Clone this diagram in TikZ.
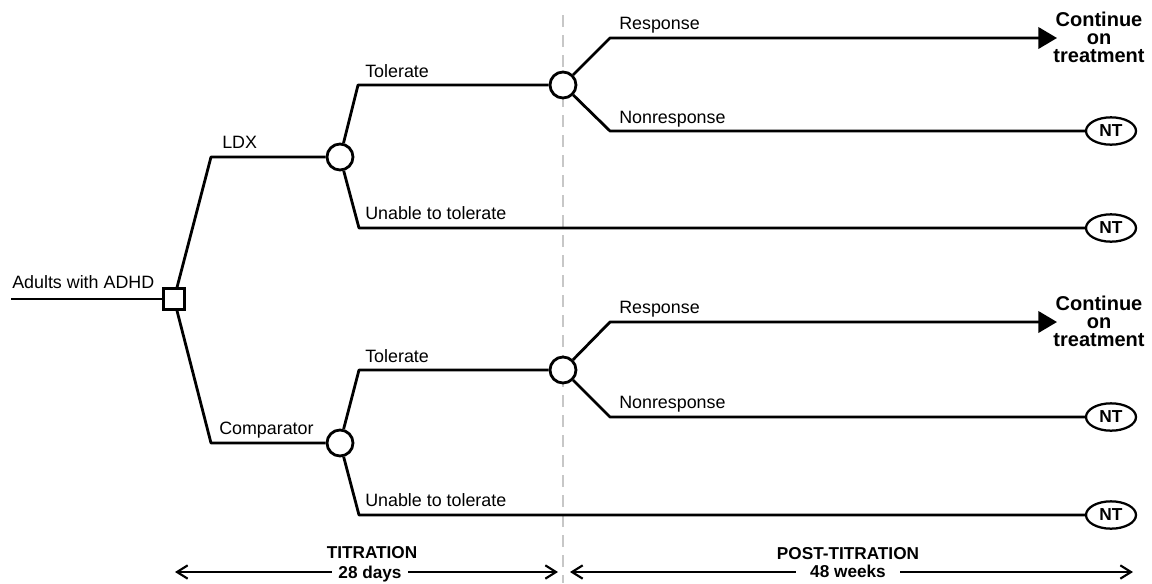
\documentclass[tikz,border=0pt]{standalone}
\usepackage{fontspec}
\setmainfont{Liberation Sans}
\usetikzlibrary{arrows.meta,shapes.geometric}
\begin{document}
\begin{tikzpicture}[x=0.75pt,y=-0.75pt,
  branch/.style={line width=2.1pt, line join=round},
  respline/.style={branch, -{Triangle[length=14pt,width=16pt]}},
  chance/.style={circle, draw, line width=2.1pt, fill=white, minimum size=19.5pt, inner sep=0pt},
  decision/.style={rectangle, draw, line width=2.1pt, fill=white, minimum size=15.5pt, inner sep=0pt},
  term/.style={ellipse, draw, line width=1.7pt, fill=white, minimum width=37.5pt, minimum height=20.5pt, inner sep=0pt, font=\bfseries\fontsize{13}{14}\selectfont},
  lbl/.style={anchor=base west, inner sep=0pt, font=\fontsize{13.4}{15}\selectfont},
  outcome/.style={align=center, inner sep=0pt, font=\bfseries\fontsize{15}{13.6}\selectfont},
  phase/.style={anchor=base, inner sep=0pt, font=\bfseries\fontsize{12.9}{15}\selectfont},
  span/.style={line width=1.6pt, {Straight Barb[length=8pt,width=10pt]}-{Straight Barb[length=8pt,width=10pt]}},
  divider/.style={draw=black!22, line width=2.2pt, dash pattern=on 9pt off 6pt}
]
\useasboundingbox (0,0) rectangle (1152,583);

% phase divider
\coordinate (dtop) at (563,15);
\coordinate (dbot) at (563,583);
\draw[divider] (dtop) -- (dbot);

% nodes
\coordinate (start) at (11,299);
\node[decision] (root) at (174,299) {};
\node[chance] (c1) at (340,157) {};
\node[chance] (c2) at (563,85) {};
\node[chance] (c3) at (340,443) {};
\node[chance] (c4) at (563,370) {};

\coordinate (k1) at (211,157);
\coordinate (k2) at (211,443);
\coordinate (t1) at (358,85);
\coordinate (u1) at (359,228);
\coordinate (t2) at (359,370);
\coordinate (u2) at (359,515);
\coordinate (r1) at (610,38);
\coordinate (n1) at (610,131);
\coordinate (r2) at (610,322);
\coordinate (n2) at (610,417);
\coordinate (e1) at (1057,38);
\coordinate (e2) at (1057,322);

\node[term] (nt1) at (1111,131) {NT};
\node[term] (nt2) at (1111,228) {NT};
\node[term] (nt3) at (1111,417) {NT};
\node[term] (nt4) at (1111,515) {NT};

\node[outcome] (co1) at (1099,37) {Continue\\on\\treatment};
\node[outcome] (co2) at (1099,321) {Continue\\on\\treatment};

% connectors
\draw[branch] (start) -- (root);
\draw[branch] (root) -- (k1) -- (c1);
\draw[branch] (root) -- (k2) -- (c3);
\draw[branch] (c1) -- (t1) -- (c2);
\draw[branch] (c1) -- (u1) -- (nt2);
\draw[branch] (c3) -- (t2) -- (c4);
\draw[branch] (c3) -- (u2) -- (nt4);
\draw[respline] (c2) -- (r1) -- (e1);
\draw[branch] (c2) -- (n1) -- (nt1);
\draw[respline] (c4) -- (r2) -- (e2);
\draw[branch] (c4) -- (n2) -- (nt3);

% labels
\node[lbl] (l0) at (12,288) {Adults with ADHD};
\node[lbl] (l1) at (222,148) {LDX};
\node[lbl] (l2) at (219,434) {Comparator};
\node[lbl] (l3) at (365,77) {Tolerate};
\node[lbl] (l4) at (365,219) {Unable to tolerate};
\node[lbl] (l5) at (365,362) {Tolerate};
\node[lbl] (l6) at (365,506) {Unable to tolerate};
\node[lbl] (l7) at (619,29) {Response};
\node[lbl] (l8) at (619,123) {Nonresponse};
\node[lbl] (l9) at (619,313) {Response};
\node[lbl] (l10) at (619,408) {Nonresponse};

% phase spans
\coordinate (a1) at (175,572);
\coordinate (a2) at (558,572);
\coordinate (b1) at (570,572);
\coordinate (b2) at (1133,572);
\draw[span] (a1) -- (a2);
\draw[span] (b1) -- (b2);
\node[phase] (ph1) at (372,558) {TITRATION};
\node[phase, fill=white, inner xsep=5pt, inner ysep=1pt] (ph1d) at (370,578) {28 days};
\node[phase] (ph2) at (848,559) {POST-TITRATION};
\node[phase, fill=white, inner xsep=11pt, inner ysep=1pt] (ph2d) at (848,577) {48 weeks};
\end{tikzpicture}
\end{document}
